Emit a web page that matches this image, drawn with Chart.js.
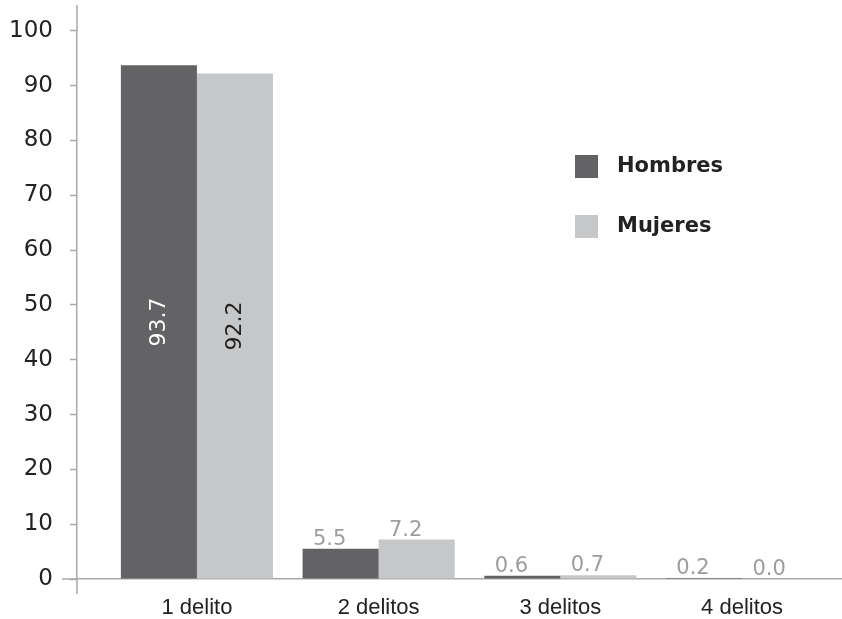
<!DOCTYPE html>
<html>
<head>
<meta charset="utf-8">
<script src="https://cdn.jsdelivr.net/npm/chart.js@4.4.1/dist/chart.umd.min.js"></script>
<style>
  body { margin: 0; background: #fff; }
  canvas { display: block; }
</style>
</head>
<body>
<canvas id="barChart" width="842" height="619"></canvas>
<script>
// number of offences per person, by sex (%)
var categories = ['1 delito', '2 delitos', '3 delitos', '4 delitos'];
var hombres = [93.7, 5.5, 0.6, 0.2];
var mujeres = [92.2, 7.2, 0.7, 0.0];
var yTicks = [0, 10, 20, 30, 40, 50, 60, 70, 80, 90, 100];

var darkGrey = '#636365';
var lightGrey = '#c6c7c9';
var axisGrey = '#a9a9a9';
var numFont = '"DejaVu Sans", sans-serif';

function toPoints(values) {
  return values.map(function(v, i) { return { x: i + 1, y: v }; });
}

// axis line extensions and the longer zero tick
var axisExtras = {
  id: 'axisExtras',
  afterDraw: function(chart) {
    var ctx = chart.ctx, a = chart.chartArea;
    var y0 = chart.scales.y.getPixelForValue(0);
    ctx.save();
    ctx.strokeStyle = axisGrey;
    ctx.lineWidth = 1.5;
    ctx.beginPath();
    ctx.moveTo(a.left, 5);
    ctx.lineTo(a.left, a.top);
    ctx.moveTo(a.left, a.bottom);
    ctx.lineTo(a.left, a.bottom + 15);
    ctx.moveTo(a.left - 15, y0);
    ctx.lineTo(a.left, y0);
    ctx.stroke();
    ctx.restore();
  }
};

// value labels: rotated inside tall bars, above short ones
var valueLabels = {
  id: 'valueLabels',
  afterDatasetsDraw: function(chart) {
    var ctx = chart.ctx;
    ctx.save();
    chart.data.datasets.forEach(function(ds, di) {
      chart.getDatasetMeta(di).data.forEach(function(bar, i) {
        var v = ds.data[i].y;
        var txt = v.toFixed(1);
        if (v > 50) {
          ctx.save();
          ctx.translate(bar.x, (bar.y + bar.base) / 2);
          ctx.rotate(-Math.PI / 2);
          ctx.font = '22px ' + numFont;
          ctx.fillStyle = di === 0 ? '#ffffff' : '#222222';
          ctx.textAlign = 'center';
          ctx.textBaseline = 'middle';
          ctx.fillText(txt, 0, 0);
          ctx.restore();
        } else {
          ctx.font = '21px ' + numFont;
          ctx.fillStyle = '#9d9d9f';
          ctx.textAlign = 'center';
          ctx.textBaseline = 'alphabetic';
          ctx.fillText(txt, bar.x - 11, bar.y - 4);
        }
      });
    });
    ctx.restore();
  }
};

// legend boxes to the right of the plot
var sideLegend = {
  id: 'sideLegend',
  afterDraw: function(chart) {
    var ctx = chart.ctx;
    ctx.save();
    chart.data.datasets.forEach(function(ds, i) {
      var top = 155 + i * 60;
      ctx.fillStyle = ds.backgroundColor;
      ctx.fillRect(575, top, 23, 23);
      ctx.font = 'bold 21px "DejaVu Sans", sans-serif';
      ctx.fillStyle = '#222222';
      ctx.textAlign = 'left';
      ctx.textBaseline = 'middle';
      ctx.fillText(ds.label, 617, top + 12);
    });
    ctx.restore();
  }
};

var ctx = document.getElementById('barChart').getContext('2d');
var myChart = new Chart(ctx, {
  type: 'bar',
  data: {
    datasets: [{
      label: 'Hombres',
      data: toPoints(hombres),
      backgroundColor: darkGrey
    }, {
      label: 'Mujeres',
      data: toPoints(mujeres),
      backgroundColor: lightGrey
    }]
  },
  options: {
    responsive: false,
    animation: false,
    layout: { padding: { top: 23, left: 0, right: 0, bottom: 0 } },
    datasets: { bar: { categoryPercentage: 0.837, barPercentage: 1.0 } },
    plugins: {
      legend: { display: false },
      tooltip: { enabled: false }
    },
    scales: {
      x: {
        type: 'linear',
        offset: false,
        min: 0.34,
        max: 4.55,
        afterBuildTicks: function(scale) {
          scale.ticks = categories.map(function(c, i) { return { value: i + 1 }; });
        },
        afterFit: function(scale) { scale.height = 40; },
        grid: { display: false },
        border: { display: true, color: axisGrey, width: 1.5 },
        ticks: {
          autoSkip: false,
          maxRotation: 0,
          padding: 8,
          color: '#222222',
          font: { family: '"Liberation Sans", Arial, sans-serif', size: 22 },
          callback: function(value) { return categories[value - 1]; }
        }
      },
      y: {
        min: 0,
        max: 100,
        afterBuildTicks: function(scale) {
          scale.ticks = yTicks.map(function(v) { return { value: v }; });
        },
        afterFit: function(scale) { scale.width = 77; },
        grid: {
          drawOnChartArea: false,
          drawTicks: true,
          tickLength: 7,
          tickColor: axisGrey,
          tickWidth: 1.5
        },
        border: { display: true, color: axisGrey, width: 1.5 },
        ticks: {
          padding: 17,
          color: '#222222',
          font: { family: numFont, size: 23 }
        }
      }
    }
  },
  plugins: [axisExtras, valueLabels, sideLegend]
});
</script>
</body>
</html>
